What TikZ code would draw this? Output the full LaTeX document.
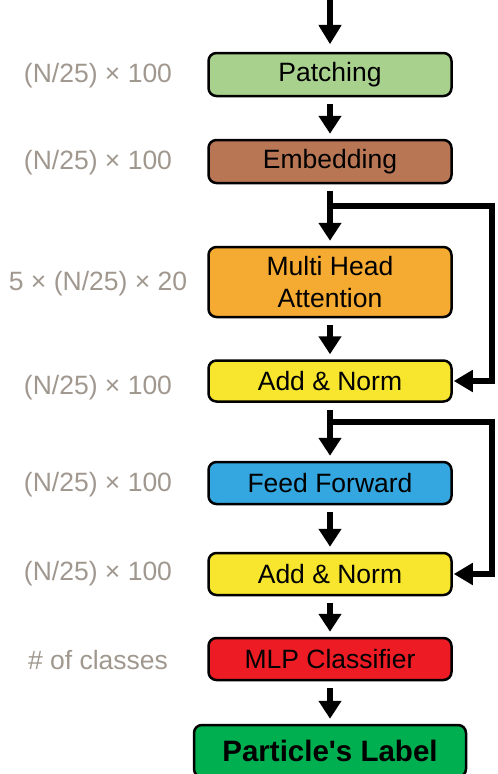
\documentclass[tikz,border=0pt]{standalone}
\usepackage{fontspec}
\setmainfont{Liberation Sans}
\newfontfamily\plainfont{Liberation Sans}
\usetikzlibrary{arrows.meta,positioning}

\definecolor{patchc}{RGB}{169,209,142}
\definecolor{embedc}{RGB}{184,118,84}
\definecolor{attc}{RGB}{245,170,50}
\definecolor{normc}{RGB}{247,230,45}
\definecolor{ffc}{RGB}{52,167,224}
\definecolor{mlpc}{RGB}{237,28,36}
\definecolor{outc}{RGB}{0,176,80}
\definecolor{dimc}{RGB}{160,152,143}

\begin{document}
\begin{tikzpicture}[x=1pt,y=1pt,
    box/.style={draw=black,line width=2.5pt,rounded corners=8pt,minimum width=243pt,
        minimum height=42pt,align=center,font=\fontsize{26.5}{32}\selectfont,inner sep=0pt},
    dim/.style={text=dimc,font=\fontsize{26.5}{32}\selectfont},
    arr/.style={line width=6.5pt,-{Triangle[width=22pt,length=18pt]},shorten <=7pt,shorten >=5pt},
    fb/.style={line width=6.5pt,-{Triangle[width=21pt,length=19pt]},shorten >=1pt}]
    \def\xm{330}
    \def\xr{492}
    \useasboundingbox (0,0) rectangle (498,-774);

    % blocks
    \node[box,fill=patchc,minimum height=43pt] (patch) at (\xm,-74.5) {Patching};
    \node[box,fill=embedc,minimum height=43pt] (embed) at (\xm,-161.5) {Embedding};
    \node[box,fill=attc,minimum height=70pt] (mha) at (\xm,-282) {Multi Head\\Attention};
    \node[box,fill=normc,minimum height=41pt] (add1) at (\xm,-381) {Add \& Norm};
    \node[box,fill=ffc] (ff) at (\xm,-483) {Feed Forward};
    \node[box,fill=normc] (add2) at (\xm,-574) {Add \& Norm};
    \node[box,fill=mlpc] (mlp) at (\xm,-659) {MLP Classifier};
    \node[box,fill=outc,minimum width=272pt,minimum height=52pt,
        font=\fontsize{29.5}{34}\plainfont\bfseries] (out) at (\xm,-751) {Particle's Label};

    % tensor sizes
    \node[dim] (d1) at (98,-76) {(N/25) × 100};
    \node[dim] (d2) at (98,-163) {(N/25) × 100};
    \node[dim] (d3) at (98,-284) {5 × (N/25) × 20};
    \node[dim] (d4) at (98,-388) {(N/25) × 100};
    \node[dim] (d5) at (98,-485) {(N/25) × 100};
    \node[dim] (d6) at (98,-574) {(N/25) × 100};
    \node[dim] (d7) at (98,-660) {\# of classes};

    % main flow
    \coordinate (start) at (\xm,0);
    \draw[arr,shorten <=0pt,shorten >=9pt] (start) -- (patch);
    \fill (\xm-11,-26) -- (\xm+11,-26) -- (\xm,-44) -- cycle; % input head
    \draw[arr] (patch) -- (embed);
    \draw[arr] (embed) -- (mha);
    \draw[arr] (mha) -- (add1);
    \draw[arr] (add1) -- (ff);
    \draw[arr] (ff) -- (add2);
    \draw[arr] (add2) -- (mlp);
    \draw[arr] (mlp) -- (out);

    % residual connections
    \coordinate (br1) at (\xm,-206);
    \coordinate (br2) at (\xm,-422);
    \draw[fb] (br1) -- (\xr,-206) |- (add1.east);
    \draw[fb] (br2) -- (\xr,-422) |- (add2.east);
\end{tikzpicture}
\end{document}
